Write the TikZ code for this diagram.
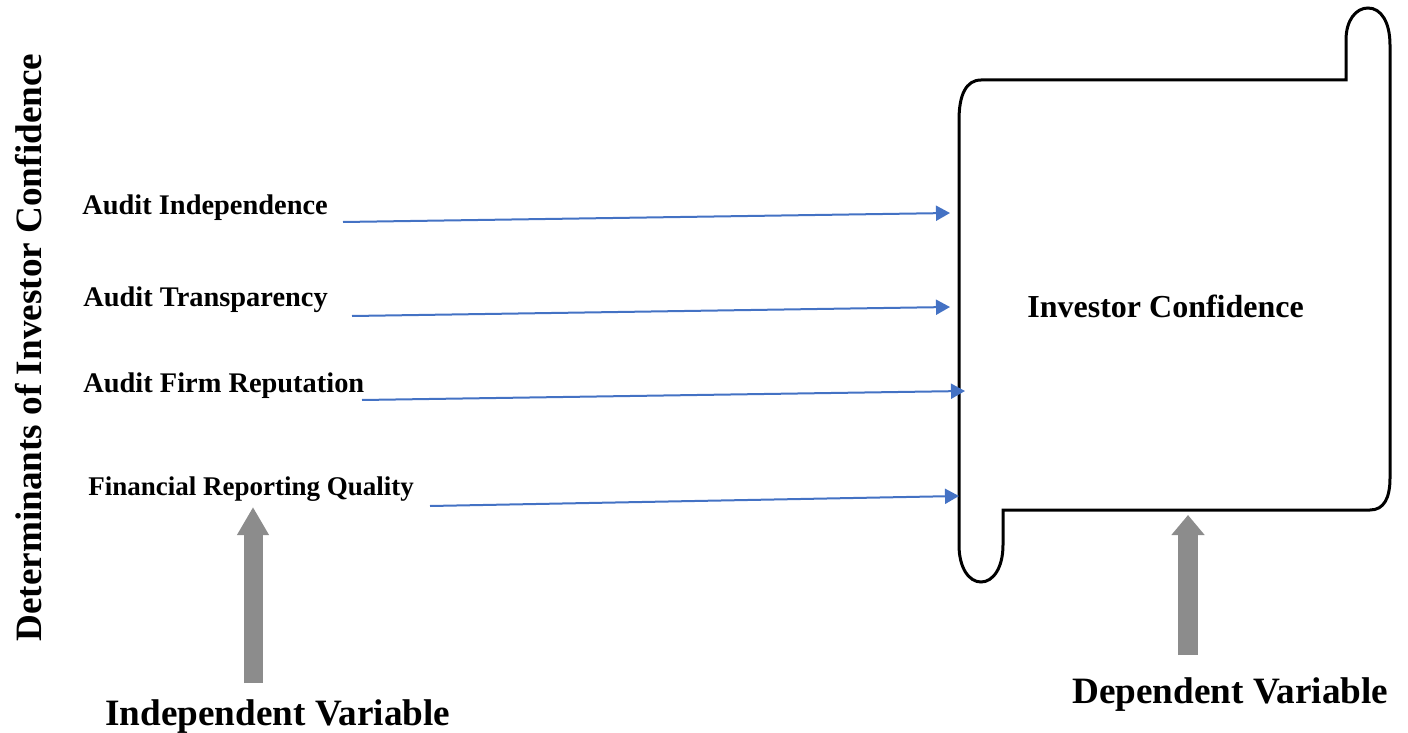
\documentclass[tikz,border=0pt]{standalone}
\usepackage{fontspec}
\setmainfont{Liberation Serif}
\usepackage{tikz}
\usetikzlibrary{arrows.meta}
\definecolor{linkblue}{RGB}{68,114,196}
\definecolor{liftgray}{RGB}{140,140,140}

\begin{document}
\begin{tikzpicture}[x=0.5pt,y=-0.5pt]
    \tikzset { factor/.style = { anchor=base west,inner sep=0pt,font=\bfseries\fontsize{14.2}{17}\selectfont } }
    \tikzset { big/.style = { anchor=base west,inner sep=0pt,font=\bfseries\fontsize{18.6}{22}\selectfont } }
    \tikzset { link/.style = { draw=linkblue,line width=1pt,-{Triangle[length=7pt,width=7.5pt]} } }
    \tikzset { lift/.style = { draw=liftgray,line width=#1 } }

    \useasboundingbox (0,0) rectangle (1408,733);

    \node[big,rotate=90] (title) at (41,642) {Determinants of Investor Confidence};

    \node[factor] (indep) at (82,214) {Audit Independence};
    \node[factor] (transp) at (83,306) {Audit Transparency};
    \node[factor] (reput) at (83,392) {Audit Firm Reputation};
    \node[factor,font=\bfseries\fontsize{13.5}{16}\selectfont] (frq) at (88,495) {Financial Reporting Quality};

    \draw[line width=1.5pt] (959,120) .. controls (959,95) and (966,80) .. (981,80) -- (1346,80)
      -- (1346,40) .. controls (1346,20) and (1356,8) .. (1368,8) .. controls (1381,8) and (1390,22) .. (1390,45)
      -- (1390,478) .. controls (1390,498) and (1384,510) .. (1370,510) -- (1003,510)
      -- (1003,545) .. controls (1003,568) and (993,582) .. (981,582) .. controls (969,582) and (959,568) .. (959,545)
      -- cycle;

    \node[factor,font=\bfseries\fontsize{16}{19}\selectfont] (conf) at (1027,317) {Investor Confidence};

    \coordinate (indep-s) at (343,222);
    \coordinate (indep-e) at (950,213);
    \coordinate (transp-s) at (352,316);
    \coordinate (transp-e) at (950,307);
    \coordinate (reput-s) at (362,400);
    \coordinate (reput-e) at (965,391);
    \coordinate (frq-s) at (430,506);
    \coordinate (frq-e) at (959,496);

    \draw[link] (indep-s) -- (indep-e);
    \draw[link] (transp-s) -- (transp-e);
    \draw[link] (reput-s) -- (reput-e);
    \draw[link] (frq-s) -- (frq-e);

    \node[big] (iv) at (105,725) {Independent Variable};
    \node[big] (dv) at (1072,703) {Dependent Variable};

    \coordinate (iv-s) at (253,683);
    \coordinate (iv-e) at (253,507);
    \coordinate (dv-s) at (1188,655);
    \coordinate (dv-e) at (1188,515);

    \draw[lift=9.5pt,-{Triangle[length=14pt,width=15pt]}] (iv-s) -- (iv-e);
    \draw[lift=10pt,-{Triangle[length=10pt,width=16pt]}] (dv-s) -- (dv-e);

  \end{tikzpicture}
\end{document}
